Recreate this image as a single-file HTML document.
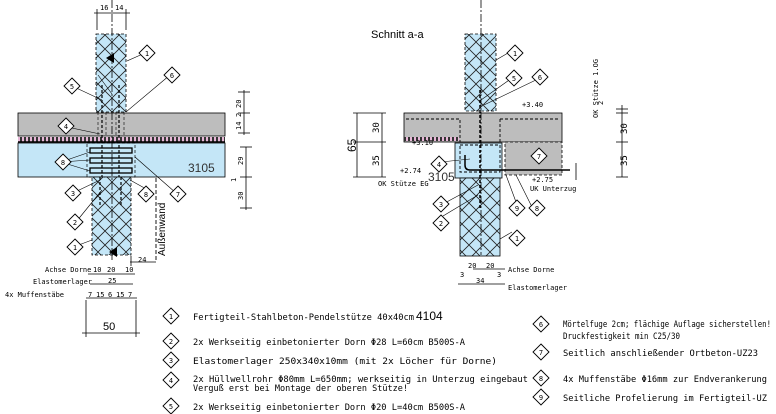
<!DOCTYPE html>
<html><head><meta charset="utf-8"><style>
html,body{margin:0;padding:0;background:#fff;}
svg{display:block;}
svg text{font-family:"Liberation Sans",sans-serif;}
svg .m text, svg text.m{font-family:"DejaVu Sans Mono","Liberation Mono",monospace;font-size:9px;fill:#000;}
svg .s text, svg text.s{font-family:"DejaVu Sans Mono","Liberation Mono",monospace;font-size:7px;fill:#000;}
</style></head><body>
<svg width="776" height="414" viewBox="0 0 776 414" xmlns="http://www.w3.org/2000/svg">
<defs>
<pattern id="h" width="14" height="14" patternUnits="userSpaceOnUse">
<rect width="14" height="14" fill="#c4e6f7"/>
<path d="M0 0L14 14M14 0L0 14" stroke="#222" stroke-width="0.8"/>
</pattern>
<pattern id="p" width="4" height="5" patternUnits="userSpaceOnUse">
<rect width="4" height="5" fill="#e8b8d8"/><rect x="0" y="0" width="2" height="5" fill="#333"/>
</pattern>
<g id="d"><path d="M0 -8L8 0L0 8L-8 0Z" fill="#fff" stroke="#000" stroke-width="0.9"/></g>
</defs>

<!-- LEFT DRAWING -->
<rect x="18" y="113" width="207" height="23" fill="#bdbdbd" stroke="#000" stroke-width="0.8"/>
<rect x="18" y="137" width="207" height="5" fill="url(#p)"/>
<line x1="18" y1="142" x2="225" y2="142" stroke="#000" stroke-width="1.5"/>
<rect x="18" y="143" width="207" height="34" fill="#c4e6f7" stroke="#000" stroke-width="0.8"/>
<rect x="96" y="34" width="30" height="78" fill="url(#h)" stroke="#000" stroke-width="0.8" stroke-dasharray="3 2"/>
<rect x="92" y="177" width="39" height="78" fill="url(#h)" stroke="#000" stroke-width="0.8" stroke-dasharray="3 2"/>
<rect x="87" y="143" width="48" height="34" fill="none" stroke="#000" stroke-width="0.7" stroke-dasharray="3 2"/>
<g fill="none" stroke="#000" stroke-width="1.3">
<rect x="90" y="148" width="42" height="5"/><rect x="90" y="158" width="42" height="5"/><rect x="90" y="168" width="42" height="5"/>
</g>
<g stroke="#000" stroke-width="1.2" stroke-dasharray="3 2">
<line x1="102" y1="85" x2="102" y2="177"/><line x1="119" y1="85" x2="119" y2="177"/>
<line x1="100" y1="177" x2="100" y2="205"/><line x1="121" y1="177" x2="121" y2="205"/>
</g>
<g stroke="#000" stroke-width="0.6" stroke-dasharray="3 2" fill="none">
<line x1="98" y1="112" x2="98" y2="137"/><line x1="124" y1="112" x2="124" y2="137"/>
<line x1="106" y1="112" x2="106" y2="137"/><line x1="116" y1="112" x2="116" y2="137"/>
</g>
<line x1="112" y1="0" x2="112" y2="262" stroke="#000" stroke-width="0.8" stroke-dasharray="8 2 2 2"/>
<line x1="156" y1="178" x2="156" y2="262" stroke="#000" stroke-width="0.9" stroke-dasharray="4 2"/>
<text x="0" y="0" transform="translate(165,256) rotate(-90)" font-size="10">Außenwand</text>
<text x="188" y="172" font-size="12" fill="#333">3105</text>
<path d="M106 58l8 -5v10z M109 252l8 -5v10z" fill="#000"/>
<!-- top dims -->
<g stroke="#000" stroke-width="0.8"><line x1="94" y1="13" x2="130" y2="13"/><line x1="97" y1="9" x2="97" y2="30"/><line x1="126" y1="9" x2="126" y2="30"/></g>
<text x="100" y="10" class="s">16</text><text x="115" y="10" class="s">14</text>
<!-- right dims -->
<g stroke="#000" stroke-width="0.8"><line x1="244" y1="90" x2="244" y2="135"/><line x1="246" y1="147" x2="246" y2="210"/>
<line x1="238" y1="92" x2="250" y2="92"/><line x1="238" y1="113" x2="250" y2="113"/><line x1="238" y1="133" x2="250" y2="133"/>
<line x1="240" y1="147" x2="252" y2="147"/><line x1="240" y1="177" x2="252" y2="177"/><line x1="240" y1="208" x2="252" y2="208"/></g>
<g class="s"><text transform="translate(241,108) rotate(-90)">20</text><text transform="translate(241,117) rotate(-90)">2</text><text transform="translate(241,130) rotate(-90)">14</text>
<text transform="translate(243,165) rotate(-90)">29</text><text transform="translate(236,182) rotate(-90)">1</text><text transform="translate(243,200) rotate(-90)">30</text></g>
<!-- bottom dims -->
<g stroke="#000" stroke-width="0.8">
<line x1="130" y1="262" x2="156" y2="262"/><line x1="131" y1="256" x2="131" y2="266"/>
<line x1="88" y1="274" x2="135" y2="274"/><line x1="90" y1="284" x2="133" y2="284"/><line x1="86" y1="298" x2="137" y2="298"/><line x1="82" y1="333" x2="140" y2="333"/>
<line x1="86" y1="300" x2="86" y2="337"/><line x1="136" y1="300" x2="136" y2="337"/>
</g>
<g class="s"><text x="138" y="262">24</text><text x="93" y="272">10</text><text x="107" y="272">20</text><text x="125" y="272">10</text>
<text x="108" y="283">25</text><text x="88" y="297">7</text><text x="96" y="297">15</text><text x="108" y="297">6</text><text x="116" y="297">15</text><text x="128" y="297">7</text>
<text x="45" y="272">Achse Dorne</text><text x="33" y="284">Elastomerlager</text><text x="5" y="297">4x Muffenstäbe</text></g>
<text x="103" y="330" font-size="11" font-family="DejaVu Sans Mono,monospace">50</text>
<!-- left labels -->
<g stroke="#000" stroke-width="0.6" fill="none">
<path d="M127 61L145 53 M98 75L112 94 M72 86L102 100 M126 112L170 75 M67 127L100 134 M61 162L90 152 M61 162L90 160 M61 162L90 171 M73 193L100 180 M76 222L102 190 M76 246L92 240 M135 157L176 193 M130 180L148 190"/>
</g>
<g class="s" text-anchor="middle">
<use href="#d" x="147" y="53"/><text x="147" y="56">1</text>
<use href="#d" x="172" y="75"/><text x="172" y="78">6</text>
<use href="#d" x="72" y="86"/><text x="72" y="89">5</text>
<use href="#d" x="66" y="126"/><text x="66" y="129">4</text>
<use href="#d" x="63" y="162"/><text x="63" y="165">8</text>
<use href="#d" x="73" y="193"/><text x="73" y="196">3</text>
<use href="#d" x="75" y="222"/><text x="75" y="225">2</text>
<use href="#d" x="75" y="247"/><text x="75" y="250">1</text>
<use href="#d" x="146" y="194"/><text x="146" y="197">8</text>
<use href="#d" x="178" y="194"/><text x="178" y="197">7</text>
</g>

<!-- RIGHT DRAWING -->
<text x="371" y="38" font-size="11">Schnitt a-a</text>
<rect x="404" y="113" width="158" height="29" fill="#bdbdbd" stroke="#000" stroke-width="0.8"/>
<rect x="505" y="142" width="57" height="33" fill="#bdbdbd" stroke="#000" stroke-width="0.8" stroke-dasharray="3 2"/>
<rect x="404" y="137" width="55" height="4" fill="url(#p)"/>
<rect x="455" y="143" width="47" height="35" fill="#c4e6f7" stroke="#000" stroke-width="0.8"/>
<rect x="465" y="34" width="31" height="77" fill="url(#h)" stroke="#000" stroke-width="0.8" stroke-dasharray="3 2"/>
<rect x="460" y="178" width="40" height="78" fill="url(#h)" stroke="#000" stroke-width="0.8"/>
<g fill="none" stroke="#000" stroke-width="0.9" stroke-dasharray="3 2">
<path d="M406 119H460V142 M500 119H560 M500 119V142 M460 145H500V172H460Z"/>
</g>
<line x1="481" y1="0" x2="481" y2="255" stroke="#000" stroke-width="0.8" stroke-dasharray="8 2 2 2"/>
<line x1="480" y1="90" x2="480" y2="210" stroke="#000" stroke-width="1.5" stroke-dasharray="3 2"/>
<path d="M465 155V165Q465 170 470 170H570" fill="none" stroke="#000" stroke-width="1.5"/>
<text x="428" y="181" font-size="12" fill="#333">3105</text>
<g stroke="#000" stroke-width="0.8"><line x1="357" y1="113" x2="357" y2="177"/><line x1="382" y1="113" x2="382" y2="177"/>
<line x1="353" y1="113" x2="386" y2="113"/><line x1="353" y1="142" x2="386" y2="142"/><line x1="353" y1="177" x2="386" y2="177"/>
<line x1="473" y1="269" x2="505" y2="269"/><line x1="458" y1="284" x2="505" y2="284"/></g>
<text transform="translate(356,152) rotate(-90)" font-size="12">65</text>
<g class="m"><text transform="translate(379,133) rotate(-90)">30</text><text transform="translate(379,166) rotate(-90)">35</text></g>
<g class="s"><text x="400" y="173">+2.74</text><text x="378" y="186">OK Stütze EG</text><text x="412" y="145">+3.10</text><text x="522" y="107">+3.40</text>
<text x="532" y="182">+2.75</text><text x="530" y="191">UK Unterzug</text>
<text x="468" y="268">20</text><text x="486" y="268">20</text><text x="508" y="272">Achse Dorne</text><text x="476" y="283">34</text><text x="508" y="290">Elastomerlager</text><text x="460" y="277">3</text><text x="497" y="277">3</text>
<text transform="translate(598,118) rotate(-90)">OK Stütze 1.OG</text><text transform="translate(603,105) rotate(-90)">2</text></g>
<g stroke="#000" stroke-width="0.8"><line x1="622" y1="105" x2="622" y2="177"/><line x1="616" y1="109" x2="628" y2="109"/><line x1="616" y1="113" x2="628" y2="113"/><line x1="616" y1="142" x2="628" y2="142"/><line x1="616" y1="177" x2="628" y2="177"/><line x1="576" y1="163" x2="576" y2="180"/></g>
<g class="m"><text transform="translate(627,134) rotate(-90)">30</text><text transform="translate(627,166) rotate(-90)">35</text></g>
<g stroke="#000" stroke-width="0.6" fill="none">
<path d="M496 60L508 53 M481 100L512 78 M484 105L540 78 M441 162L470 159 M443 204L478 185 M443 216L478 195 M500 239L512 232 M506 175L516 202 M516 175L532 207"/>
</g>
<g class="s" text-anchor="middle">
<use href="#d" x="515" y="53"/><text x="515" y="56">1</text>
<use href="#d" x="514" y="78"/><text x="514" y="81">5</text>
<use href="#d" x="540" y="77"/><text x="540" y="80">6</text>
<use href="#d" x="439" y="164"/><text x="439" y="167">4</text>
<use href="#d" x="441" y="204"/><text x="441" y="207">3</text>
<use href="#d" x="441" y="223"/><text x="441" y="226">2</text>
<use href="#d" x="517" y="238"/><text x="517" y="241">1</text>
<use href="#d" x="539" y="156"/><text x="539" y="159">7</text>
<use href="#d" x="517" y="208"/><text x="517" y="211">9</text>
<use href="#d" x="537" y="208"/><text x="537" y="211">8</text>
</g>

<!-- LEGEND -->
<g class="s" text-anchor="middle">
<use href="#d" x="171" y="316"/><text x="171" y="319">1</text>
<use href="#d" x="171" y="341"/><text x="171" y="344">2</text>
<use href="#d" x="171" y="360"/><text x="171" y="363">3</text>
<use href="#d" x="171" y="380"/><text x="171" y="383">4</text>
<use href="#d" x="171" y="406"/><text x="171" y="409">5</text>
<use href="#d" x="541" y="324"/><text x="541" y="327">6</text>
<use href="#d" x="541" y="352"/><text x="541" y="355">7</text>
<use href="#d" x="541" y="378"/><text x="541" y="381">8</text>
<use href="#d" x="541" y="397"/><text x="541" y="400">9</text>
</g>
<g class="m">
<text x="193" y="320" textLength="221" lengthAdjust="spacingAndGlyphs">Fertigteil-Stahlbeton-Pendelstütze 40x40cm</text>
<text x="193" y="345" textLength="272" lengthAdjust="spacingAndGlyphs">2x Werkseitig einbetonierter Dorn Φ28 L=60cm B500S-A</text>
<text x="193" y="364" textLength="304" lengthAdjust="spacingAndGlyphs">Elastomerlager 250x340x10mm (mit 2x Löcher für Dorne)</text>
<text x="193" y="382" textLength="335" lengthAdjust="spacingAndGlyphs">2x Hüllwellrohr Φ80mm L=650mm; werkseitig in Unterzug eingebaut</text>
<text x="193" y="391" textLength="215" lengthAdjust="spacingAndGlyphs">Verguß erst bei Montage der oberen Stütze!</text>
<text x="193" y="410" textLength="272" lengthAdjust="spacingAndGlyphs">2x Werkseitig einbetonierter Dorn Φ20 L=40cm B500S-A</text>
<text x="563" y="327" textLength="208" lengthAdjust="spacingAndGlyphs">Mörtelfuge 2cm; flächige Auflage sicherstellen!</text>
<text x="563" y="339" textLength="117" lengthAdjust="spacingAndGlyphs">Druckfestigkeit min C25/30</text>
<text x="563" y="356" textLength="195" lengthAdjust="spacingAndGlyphs">Seitlich anschließender Ortbeton-UZ23</text>
<text x="563" y="382" textLength="204" lengthAdjust="spacingAndGlyphs">4x Muffenstäbe Φ16mm zur Endverankerung</text>
<text x="563" y="401" textLength="204" lengthAdjust="spacingAndGlyphs">Seitliche Profelierung im Fertigteil-UZ</text>
</g>
<text x="416" y="320" font-size="12">4104</text>
</svg>
</body></html>
